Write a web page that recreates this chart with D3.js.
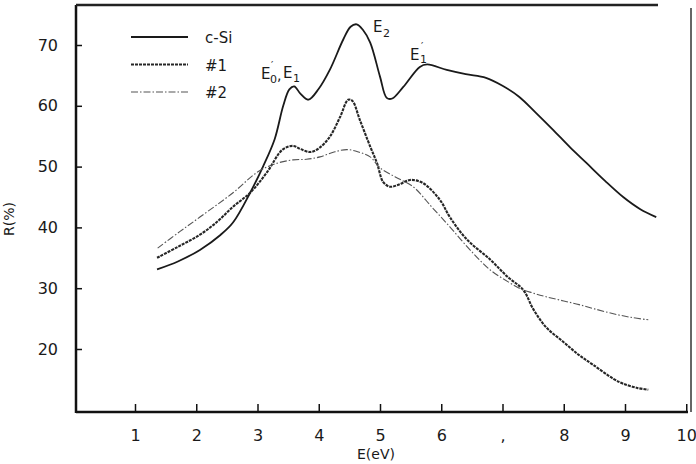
<!DOCTYPE html>
<html>
<head>
<meta charset="utf-8">
<script src="https://cdn.jsdelivr.net/npm/d3@7"></script>
<style>
  body { margin: 0; background: #fff; }
  svg text { font-family: "DejaVu Sans", sans-serif; fill: #1a1a1a; }
</style>
</head>
<body>
<div id="chart"></div>
<script>
// Reflectance R(%) vs photon energy E(eV)
const cSiE = [1.36, 1.7, 2.06, 2.4, 2.6, 2.88, 3.09, 3.28, 3.42, 3.52, 3.6, 3.7, 3.83, 4.0, 4.18, 4.4, 4.52, 4.62, 4.72, 4.84, 5.0, 5.11, 5.2, 5.38, 5.65, 5.77, 6.09, 6.4, 6.73, 7.0, 7.27, 7.55, 7.83, 8.1, 8.37, 8.67, 8.97, 9.25, 9.51];
const cSiR = [33.1, 34.4, 36.3, 38.8, 40.8, 45.7, 50, 54.5, 60, 62.7, 63.2, 62, 61, 62.8, 65.9, 70.9, 73, 73.4, 72.5, 70.4, 64.8, 61.3, 61.2, 63.1, 66.4, 66.8, 65.9, 65.2, 64.6, 63.3, 61.5, 58.8, 56, 53.2, 50.6, 47.7, 45, 43, 41.7];

const s1E = [1.36, 1.7, 2.06, 2.35, 2.6, 2.88, 3.15, 3.41, 3.58, 3.7, 3.86, 4.0, 4.18, 4.35, 4.48, 4.55, 4.67, 4.84, 4.95, 5.05, 5.16, 5.3, 5.49, 5.7, 5.98, 6.14, 6.42, 6.8, 7.08, 7.34, 7.5, 7.71, 7.99, 8.25, 8.48, 8.81, 8.97, 9.2, 9.38];
const s1R = [35, 36.8, 38.8, 41, 43.4, 45.7, 49, 52.8, 53.4, 52.9, 52.4, 53, 54.9, 58.2, 61, 60.8, 57.7, 53.3, 50.6, 47.5, 46.7, 47, 47.8, 47.3, 44.5, 41.7, 38, 34.7, 31.9, 29.7, 26.6, 23.6, 21.2, 19, 17.4, 15.1, 14.3, 13.6, 13.3];

const s2E = [1.37, 1.73, 2.06, 2.6, 3.0, 3.3, 3.58, 3.8, 4.02, 4.25, 4.46, 4.65, 4.84, 5.0, 5.25, 5.54, 5.85, 6.14, 6.47, 6.8, 7.1, 7.29, 7.5, 7.71, 8.0, 8.25, 8.5, 8.81, 9.1, 9.38];
const s2R = [36.6, 39.3, 41.7, 45.7, 49.1, 50.5, 51.1, 51.2, 51.6, 52.4, 52.8, 52.4, 51.6, 49.8, 48.3, 46.7, 43.3, 40.1, 36.3, 33, 31, 29.9, 29.2, 28.6, 27.9, 27.3, 26.6, 25.8, 25.2, 24.8];

const xTicks = [1, 2, 3, 4, 5, 6, 7, 8, 9, 10];
const xTickLabels = ['1', '2', '3', '4', '5', '6', ',', '8', '9', '10'];
const yTicks = [20, 30, 40, 50, 60, 70];

const seriesNames = ['c-Si', '#1', '#2'];

const width = 696;
const height = 464;

const svg = d3.select('#chart').append('svg')
  .attr('width', width)
  .attr('height', height);

const x = d3.scaleLinear().domain([0, 10]).range([73.75, 686.25]);
const y = d3.scaleLinear().domain([10, 70]).range([409.8, 45]);

const frameLeft = 76, frameBottom = 412, frameTop = 5;

// frame
svg.append('line').attr('x1', frameLeft).attr('x2', frameLeft).attr('y1', frameTop).attr('y2', frameBottom + 1)
  .attr('stroke', '#111').attr('stroke-width', 2.5);
svg.append('line').attr('x1', frameLeft).attr('x2', 688).attr('y1', frameBottom).attr('y2', frameBottom)
  .attr('stroke', '#111').attr('stroke-width', 2.5);
svg.append('line').attr('x1', frameLeft).attr('x2', 658).attr('y1', frameTop).attr('y2', frameTop)
  .attr('stroke', '#222').attr('stroke-width', 2.5);
svg.append('line').attr('x1', 691).attr('x2', 691).attr('y1', 8).attr('y2', frameBottom)
  .attr('stroke', '#333').attr('stroke-width', 1.5);

// axes
const xAxis = d3.axisBottom(x)
  .tickValues(xTicks)
  .tickFormat((d, i) => xTickLabels[i])
  .tickSizeInner(-8)
  .tickSizeOuter(0)
  .tickPadding(18);

const gx = svg.append('g').attr('transform', `translate(0,${frameBottom})`).call(xAxis);
gx.select('.domain').remove();
gx.selectAll('.tick line').attr('stroke', '#111').attr('stroke-width', 1.5);
gx.selectAll('.tick text').style('font-size', '16px').attr('fill', '#1a1a1a');

const yAxis = d3.axisLeft(y)
  .tickValues(yTicks)
  .tickSizeInner(-6)
  .tickSizeOuter(0)
  .tickPadding(18);

const gy = svg.append('g').attr('transform', `translate(${frameLeft},0)`).call(yAxis);
gy.select('.domain').remove();
gy.selectAll('.tick line').attr('stroke', '#111').attr('stroke-width', 1.5);
gy.selectAll('.tick text').style('font-size', '16px').attr('fill', '#1a1a1a');

// axis titles
svg.append('text')
  .attr('x', 376).attr('y', 459)
  .attr('text-anchor', 'middle')
  .style('font-size', '14px')
  .text('E(eV)');

svg.append('text')
  .attr('transform', 'translate(14,219) rotate(-90)')
  .attr('text-anchor', 'middle')
  .style('font-size', '14px')
  .text('R(%)');

// curves
const line = d3.line()
  .x((d) => x(d[0]))
  .y((d) => y(d[1]))
  .curve(d3.curveCatmullRom.alpha(0.5));

const styles = [
  { stroke: '#1a1a1a', width: 1.8, dash: null },
  { stroke: '#262626', width: 2.1, dash: '3,1' },
  { stroke: '#555', width: 1.1, dash: '7,2,1.5,2' },
];

const series = [
  d3.zip(cSiE, cSiR),
  d3.zip(s1E, s1R),
  d3.zip(s2E, s2R),
];

series.forEach((pts, i) => {
  svg.append('path')
    .datum(pts)
    .attr('d', line)
    .attr('fill', 'none')
    .attr('stroke', styles[i].stroke)
    .attr('stroke-width', styles[i].width)
    .attr('stroke-dasharray', styles[i].dash)
    .attr('stroke-linejoin', 'round');
});

// legend
const legend = svg.append('g');
seriesNames.forEach((name, i) => {
  const ly = 37 + i * 27.5;
  legend.append('line')
    .attr('x1', 131).attr('x2', 188).attr('y1', ly).attr('y2', ly)
    .attr('stroke', styles[i].stroke)
    .attr('stroke-width', styles[i].width)
    .attr('stroke-dasharray', styles[i].dash);
  legend.append('text')
    .attr('x', 205).attr('y', ly + 6)
    .style('font-size', '15px')
    .text(name);
});

// peak labels, built from small positioned pieces
const peak = svg.append('g');
function piece(px, py, txt, size) {
  peak.append('text').attr('x', px).attr('y', py).style('font-size', `${size}px`).text(txt);
}
piece(261, 79, 'E', 15);
piece(270, 83, '0', 11);
piece(271, 69, '\u2032', 10);
piece(277, 80, ',', 14);
piece(283, 78, 'E', 15);
piece(293, 82, '1', 11);

piece(373, 32, 'E', 15);
piece(383, 37, '2', 11);

piece(410, 60, 'E', 15);
piece(420, 63, '1', 11);
piece(421, 50, '\u2032', 10);
</script>
</body>
</html>
